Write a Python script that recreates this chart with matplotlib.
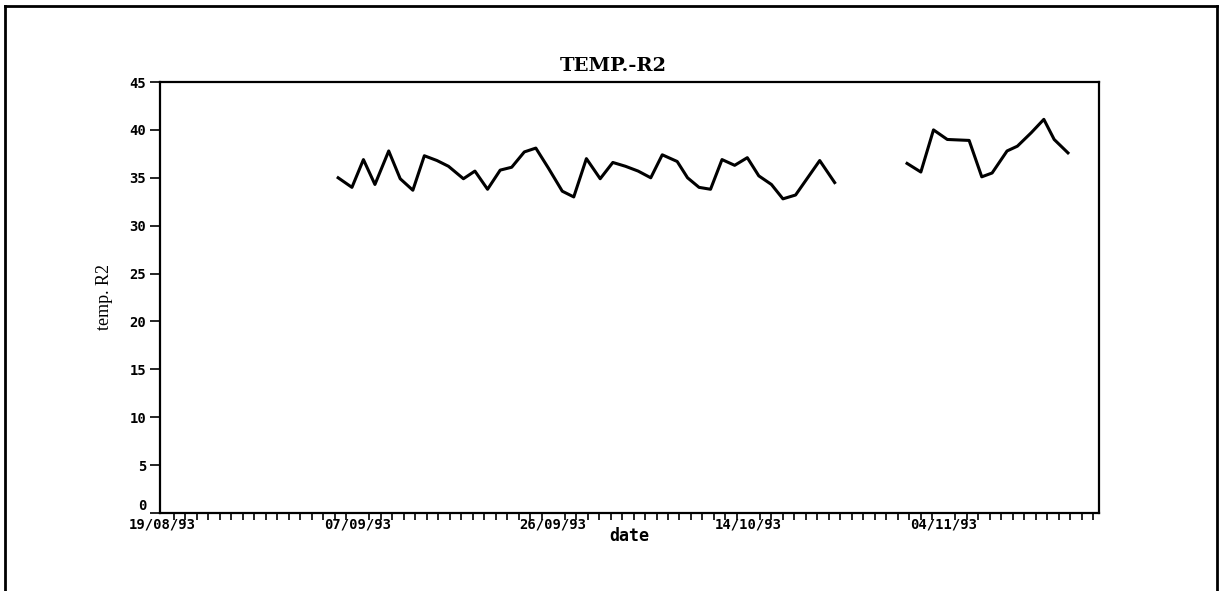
import numpy as np
import matplotlib
matplotlib.use('Agg')
import matplotlib.pyplot as plt
from matplotlib.lines import Line2D
from matplotlib.ticker import MultipleLocator

# x in chart units (one minor tick per unit), 0 = 19/08/93
tick_pos = [0, 17, 34, 51, 68]
tick_labels = ['19/08/93', '07/09/93', '26/09/93', '14/10/93', '04/11/93']
y_ticks = [0, 5, 10, 15, 20, 25, 30, 35, 40, 45]

# first run of readings
x1 = [15.3, 16.5, 17.5, 18.5, 19.7, 20.7, 21.8, 22.8, 23.9, 24.9, 26.2, 27.2,
      28.3, 29.4, 30.4, 31.5, 32.5, 33.6, 34.8, 35.8, 36.9, 38.1, 39.2, 40.3,
      41.4, 42.5, 43.5, 44.8, 45.7, 46.7, 47.7, 48.7, 49.8, 50.9, 51.9, 53.0,
      54.0, 55.1, 57.2, 58.5]
t1 = [35.0, 34.0, 36.9, 34.3, 37.8, 34.9, 33.7, 37.3, 36.8, 36.2, 34.9, 35.7,
      33.8, 35.8, 36.1, 37.7, 38.1, 36.0, 33.6, 33.0, 37.0, 34.9, 36.6, 36.2,
      35.7, 35.0, 37.4, 36.7, 35.0, 34.0, 33.8, 36.9, 36.3, 37.1, 35.2, 34.3,
      32.8, 33.2, 36.8, 34.5]

# second run of readings
x2 = [64.8, 66.0, 67.1, 68.3, 70.2, 71.3, 72.2, 73.5, 74.4, 75.6, 76.7, 77.6, 78.8]
t2 = [36.5, 35.6, 40.0, 39.0, 38.9, 35.1, 35.5, 37.8, 38.3, 39.7, 41.1, 39.0, 37.6]

W, H = 1221, 591
fig = plt.figure(figsize=(W / 100, H / 100), dpi=100)
ax = fig.add_axes([160 / W, 1 - 513 / H, (1099 - 160) / W, (513 - 82) / H])

ax.plot(x1, t1, color='black', lw=2.2)
ax.plot(x2, t2, color='black', lw=2.2)

ax.set_xlim(-0.2, 81.5)
ax.set_ylim(0, 45)
ax.set_yticks(y_ticks)
ax.set_xticks(tick_pos)
ax.set_xticklabels(tick_labels)
ax.xaxis.set_minor_locator(MultipleLocator(1))

for lab in ax.get_xticklabels() + ax.get_yticklabels():
    lab.set_fontfamily('DejaVu Sans Mono')
    lab.set_fontweight('bold')
    lab.set_fontsize(10)
# the zero sits a little above the axis line
ax.get_yticklabels()[0].set_va('bottom')

ax.tick_params(axis='y', direction='out', length=7, width=1.2, pad=3)
ax.tick_params(axis='x', which='major', direction='out', length=0, pad=3)
ax.tick_params(axis='x', which='minor', direction='out', length=5, width=1.2)
for s in ax.spines.values():
    s.set_linewidth(1.6)

ax.set_xlabel('date', fontfamily='DejaVu Sans Mono', fontweight='bold',
              fontsize=12, labelpad=-3)
ax.set_ylabel('temp. R2', fontfamily='Liberation Serif', fontsize=13,
              labelpad=12)
ax.set_title('TEMP.-R2', fontfamily='DejaVu Serif', fontweight='bold',
             fontsize=14, pad=8)
ax.title.set_x(0.483)

# outer frame of the scanned page
fr = dict(color='black', lw=2, transform=fig.transFigure, clip_on=False)
fig.add_artist(Line2D([5 / W, 5 / W], [1 - 6 / H, -0.05], **fr))
fig.add_artist(Line2D([5 / W, 1217 / W], [1 - 6 / H, 1 - 6 / H], **fr))
fig.add_artist(Line2D([1217 / W, 1217 / W], [1 - 6 / H, -0.05], **fr))

fig.savefig('out.png', dpi=100)
